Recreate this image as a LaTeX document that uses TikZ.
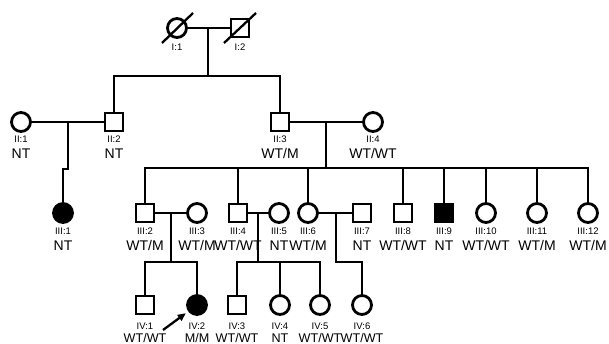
\documentclass[tikz,border=0pt]{standalone}
\usepackage{fontspec}
\setmainfont{Liberation Sans}
\usetikzlibrary{arrows.meta}

\tikzset{
  male/.style={draw, line width=2.8pt, rectangle, minimum size=18pt, inner sep=0pt},
  female/.style={draw, line width=2.8pt, circle, minimum size=19pt, inner sep=0pt},
  affected/.style={fill=black},
  idlab/.style={font=\fontsize{9.5}{9.5}\selectfont, anchor=base, inner sep=0pt},
  geno/.style={font=\fontsize{14}{14}\selectfont, anchor=base, inner sep=0pt},
  genosmall/.style={geno, font=\fontsize{12.6}{12.6}\selectfont},
}

\begin{document}
\begin{tikzpicture}[x=1pt, y=-1pt, line width=2.3pt]
  \useasboundingbox (0,0) rectangle (609,344);

  % generation I
  \node[female] (I1) at (177,28) {};
  \node[male]   (I2) at (240,28) {};
  \draw ([shift={(-15,15)}]I1.center) -- ([shift={(16,-15)}]I1.center);
  \draw ([shift={(-16,15)}]I2.center) -- ([shift={(16,-15)}]I2.center);

  % generation II
  \node[female] (II1) at (21,122) {};
  \node[male]   (II2) at (114,122) {};
  \node[male]   (II3) at (280,122) {};
  \node[female] (II4) at (373,122) {};

  % generation III
  \node[female, affected] (III1) at (63,213) {};
  \node[male]   (III2)  at (145,213) {};
  \node[female] (III3)  at (197,213) {};
  \node[male]   (III4)  at (238,213) {};
  \node[female] (III5)  at (279,213) {};
  \node[female] (III6)  at (308,213) {};
  \node[male]   (III7)  at (362,213) {};
  \node[male]   (III8)  at (403,213) {};
  \node[male, affected] (III9) at (444,213) {};
  \node[female] (III10) at (486,213) {};
  \node[female] (III11) at (537,213) {};
  \node[female] (III12) at (588,213) {};

  % generation IV
  \node[male]   (IV1) at (145,305) {};
  \node[female, affected] (IV2) at (197,305) {};
  \node[male]   (IV3) at (237,305) {};
  \node[female] (IV4) at (280,305) {};
  \node[female] (IV5) at (320,305) {};
  \node[female] (IV6) at (362,305) {};

  % I:1 x I:2
  \coordinate (m1) at (208,28);
  \coordinate (s1) at (208,76);
  \draw (I1) -- (I2);
  \draw (m1) -- (s1);
  \draw (II2) |- (s1) -| (II3);

  % II:1 x II:2
  \coordinate (m2) at (68,122);
  \coordinate (k2) at (68,169);
  \draw (II1) -- (II2);
  \draw (m2) -- (k2) -| (III1);

  % II:3 x II:4
  \coordinate (m3) at (326,122);
  \coordinate (s3) at (326,168);
  \draw (II3) -- (II4);
  \draw (m3) -- (s3);
  \draw (III2) |- (s3) -| (III12);
  \foreach \c in {III4,III6,III8,III9,III10,III11}
    \draw (\c) -- (\c |- s3);

  % III:2 x III:3
  \coordinate (m4) at (171,213);
  \coordinate (s4) at (171,262);
  \draw (III2) -- (III3);
  \draw (m4) -- (s4);
  \draw (IV1) |- (s4) -| (IV2);

  % III:4 x III:5
  \coordinate (m5) at (258,213);
  \coordinate (s5) at (258,262);
  \draw (III4) -- (III5);
  \draw (m5) -- (s5);
  \draw (IV3) |- (s5) -| (IV5);
  \draw (IV4) -- (IV4 |- s5);

  % III:6 x III:7
  \coordinate (m6) at (336,213);
  \coordinate (s6) at (336,262);
  \draw (III6) -- (III7);
  \draw (m6) -- (s6) -| (IV6);

  % proband
  \coordinate (a0) at (163,330);
  \draw[-{Triangle[length=8pt,width=7pt]}, shorten >=3pt] (a0) -- (IV2);

  % labels
  \foreach \n/\t in {I1/I:1, I2/I:2}
    \node[idlab] at ([yshift=-23pt]\n.center) {\t};
  \foreach \n/\t/\g in {II1/II:1/NT, II2/II:2/NT, II3/II:3/{WT/M}, II4/II:4/{WT/WT}} {
    \node[idlab] at ([yshift=-21pt]\n.center) {\t};
    \node[geno]  at ([yshift=-37pt]\n.center) {\g};
  }
  \foreach \n/\t/\g in {III1/III:1/NT, III2/III:2/{WT/M}, III3/III:3/{WT/M},
      III4/III:4/{WT/WT}, III5/III:5/NT, III6/III:6/{WT/M}, III7/III:7/NT,
      III8/III:8/{WT/WT}, III9/III:9/NT, III10/III:10/{WT/WT},
      III11/III:11/{WT/M}, III12/III:12/{WT/M}} {
    \node[idlab] at ([yshift=-22pt]\n.center) {\t};
    \node[geno]  at ([yshift=-38pt]\n.center) {\g};
  }
  \foreach \n/\t/\g in {IV1/IV:1/{WT/WT}, IV2/IV:2/{M/M}, IV3/IV:3/{WT/WT},
      IV4/IV:4/NT, IV5/IV:5/{WT/WT}, IV6/IV:6/{WT/WT}} {
    \node[idlab]     at ([yshift=-24pt]\n.center) {\t};
    \node[genosmall] at ([yshift=-37pt]\n.center) {\g};
  }
\end{tikzpicture}
\end{document}
